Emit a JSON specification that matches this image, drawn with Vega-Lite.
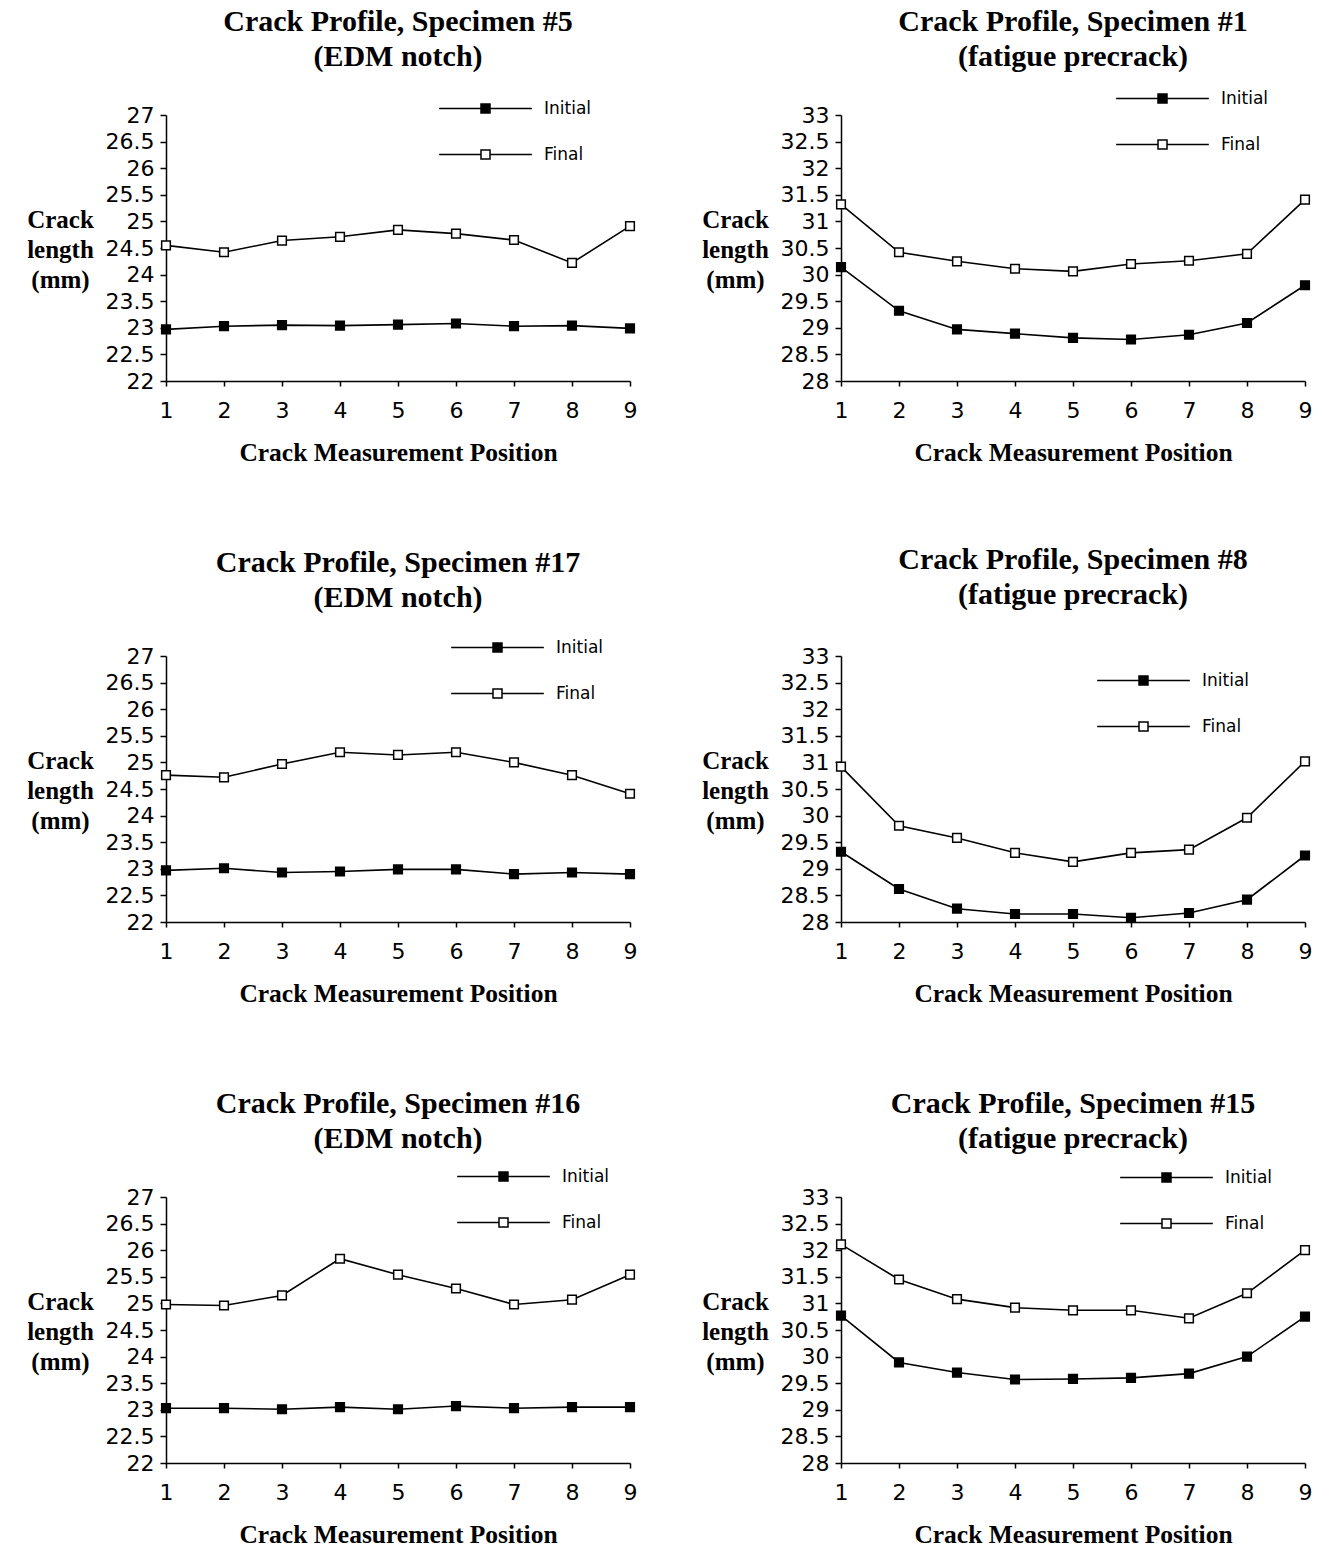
{
  "$schema": "https://vega.github.io/schema/vega-lite/v6.json",
  "background": "white",
  "padding": {"left": 26, "top": 6, "right": 5, "bottom": 2},
  "data": {"values": [
    {"specimen": "5", "pos": 1, "stage": "Initial", "len": 22.97},
    {"specimen": "5", "pos": 2, "stage": "Initial", "len": 23.03},
    {"specimen": "5", "pos": 3, "stage": "Initial", "len": 23.05},
    {"specimen": "5", "pos": 4, "stage": "Initial", "len": 23.04},
    {"specimen": "5", "pos": 5, "stage": "Initial", "len": 23.06},
    {"specimen": "5", "pos": 6, "stage": "Initial", "len": 23.08},
    {"specimen": "5", "pos": 7, "stage": "Initial", "len": 23.03},
    {"specimen": "5", "pos": 8, "stage": "Initial", "len": 23.04},
    {"specimen": "5", "pos": 9, "stage": "Initial", "len": 22.99},
    {"specimen": "5", "pos": 1, "stage": "Final", "len": 24.55},
    {"specimen": "5", "pos": 2, "stage": "Final", "len": 24.42},
    {"specimen": "5", "pos": 3, "stage": "Final", "len": 24.64},
    {"specimen": "5", "pos": 4, "stage": "Final", "len": 24.71},
    {"specimen": "5", "pos": 5, "stage": "Final", "len": 24.84},
    {"specimen": "5", "pos": 6, "stage": "Final", "len": 24.77},
    {"specimen": "5", "pos": 7, "stage": "Final", "len": 24.65},
    {"specimen": "5", "pos": 8, "stage": "Final", "len": 24.22},
    {"specimen": "5", "pos": 9, "stage": "Final", "len": 24.91},

    {"specimen": "1", "pos": 1, "stage": "Initial", "len": 30.14},
    {"specimen": "1", "pos": 2, "stage": "Initial", "len": 29.32},
    {"specimen": "1", "pos": 3, "stage": "Initial", "len": 28.97},
    {"specimen": "1", "pos": 4, "stage": "Initial", "len": 28.89},
    {"specimen": "1", "pos": 5, "stage": "Initial", "len": 28.81},
    {"specimen": "1", "pos": 6, "stage": "Initial", "len": 28.78},
    {"specimen": "1", "pos": 7, "stage": "Initial", "len": 28.87},
    {"specimen": "1", "pos": 8, "stage": "Initial", "len": 29.09},
    {"specimen": "1", "pos": 9, "stage": "Initial", "len": 29.80},
    {"specimen": "1", "pos": 1, "stage": "Final", "len": 31.32},
    {"specimen": "1", "pos": 2, "stage": "Final", "len": 30.42},
    {"specimen": "1", "pos": 3, "stage": "Final", "len": 30.25},
    {"specimen": "1", "pos": 4, "stage": "Final", "len": 30.11},
    {"specimen": "1", "pos": 5, "stage": "Final", "len": 30.06},
    {"specimen": "1", "pos": 6, "stage": "Final", "len": 30.20},
    {"specimen": "1", "pos": 7, "stage": "Final", "len": 30.26},
    {"specimen": "1", "pos": 8, "stage": "Final", "len": 30.39},
    {"specimen": "1", "pos": 9, "stage": "Final", "len": 31.41},

    {"specimen": "17", "pos": 1, "stage": "Initial", "len": 22.97},
    {"specimen": "17", "pos": 2, "stage": "Initial", "len": 23.01},
    {"specimen": "17", "pos": 3, "stage": "Initial", "len": 22.93},
    {"specimen": "17", "pos": 4, "stage": "Initial", "len": 22.95},
    {"specimen": "17", "pos": 5, "stage": "Initial", "len": 22.99},
    {"specimen": "17", "pos": 6, "stage": "Initial", "len": 22.99},
    {"specimen": "17", "pos": 7, "stage": "Initial", "len": 22.90},
    {"specimen": "17", "pos": 8, "stage": "Initial", "len": 22.93},
    {"specimen": "17", "pos": 9, "stage": "Initial", "len": 22.90},
    {"specimen": "17", "pos": 1, "stage": "Final", "len": 24.76},
    {"specimen": "17", "pos": 2, "stage": "Final", "len": 24.72},
    {"specimen": "17", "pos": 3, "stage": "Final", "len": 24.97},
    {"specimen": "17", "pos": 4, "stage": "Final", "len": 25.19},
    {"specimen": "17", "pos": 5, "stage": "Final", "len": 25.14},
    {"specimen": "17", "pos": 6, "stage": "Final", "len": 25.19},
    {"specimen": "17", "pos": 7, "stage": "Final", "len": 25.00},
    {"specimen": "17", "pos": 8, "stage": "Final", "len": 24.76},
    {"specimen": "17", "pos": 9, "stage": "Final", "len": 24.41},

    {"specimen": "8", "pos": 1, "stage": "Initial", "len": 29.32},
    {"specimen": "8", "pos": 2, "stage": "Initial", "len": 28.62},
    {"specimen": "8", "pos": 3, "stage": "Initial", "len": 28.25},
    {"specimen": "8", "pos": 4, "stage": "Initial", "len": 28.15},
    {"specimen": "8", "pos": 5, "stage": "Initial", "len": 28.15},
    {"specimen": "8", "pos": 6, "stage": "Initial", "len": 28.08},
    {"specimen": "8", "pos": 7, "stage": "Initial", "len": 28.17},
    {"specimen": "8", "pos": 8, "stage": "Initial", "len": 28.42},
    {"specimen": "8", "pos": 9, "stage": "Initial", "len": 29.25},
    {"specimen": "8", "pos": 1, "stage": "Final", "len": 30.92},
    {"specimen": "8", "pos": 2, "stage": "Final", "len": 29.81},
    {"specimen": "8", "pos": 3, "stage": "Final", "len": 29.58},
    {"specimen": "8", "pos": 4, "stage": "Final", "len": 29.30},
    {"specimen": "8", "pos": 5, "stage": "Final", "len": 29.13},
    {"specimen": "8", "pos": 6, "stage": "Final", "len": 29.30},
    {"specimen": "8", "pos": 7, "stage": "Final", "len": 29.36},
    {"specimen": "8", "pos": 8, "stage": "Final", "len": 29.96},
    {"specimen": "8", "pos": 9, "stage": "Final", "len": 31.02},

    {"specimen": "16", "pos": 1, "stage": "Initial", "len": 23.03},
    {"specimen": "16", "pos": 2, "stage": "Initial", "len": 23.03},
    {"specimen": "16", "pos": 3, "stage": "Initial", "len": 23.01},
    {"specimen": "16", "pos": 4, "stage": "Initial", "len": 23.05},
    {"specimen": "16", "pos": 5, "stage": "Initial", "len": 23.01},
    {"specimen": "16", "pos": 6, "stage": "Initial", "len": 23.07},
    {"specimen": "16", "pos": 7, "stage": "Initial", "len": 23.03},
    {"specimen": "16", "pos": 8, "stage": "Initial", "len": 23.05},
    {"specimen": "16", "pos": 9, "stage": "Initial", "len": 23.05},
    {"specimen": "16", "pos": 1, "stage": "Final", "len": 24.98},
    {"specimen": "16", "pos": 2, "stage": "Final", "len": 24.96},
    {"specimen": "16", "pos": 3, "stage": "Final", "len": 25.15},
    {"specimen": "16", "pos": 4, "stage": "Final", "len": 25.84},
    {"specimen": "16", "pos": 5, "stage": "Final", "len": 25.54},
    {"specimen": "16", "pos": 6, "stage": "Final", "len": 25.28},
    {"specimen": "16", "pos": 7, "stage": "Final", "len": 24.98},
    {"specimen": "16", "pos": 8, "stage": "Final", "len": 25.07},
    {"specimen": "16", "pos": 9, "stage": "Final", "len": 25.54},

    {"specimen": "15", "pos": 1, "stage": "Initial", "len": 30.77},
    {"specimen": "15", "pos": 2, "stage": "Initial", "len": 29.89},
    {"specimen": "15", "pos": 3, "stage": "Initial", "len": 29.70},
    {"specimen": "15", "pos": 4, "stage": "Initial", "len": 29.57},
    {"specimen": "15", "pos": 5, "stage": "Initial", "len": 29.58},
    {"specimen": "15", "pos": 6, "stage": "Initial", "len": 29.60},
    {"specimen": "15", "pos": 7, "stage": "Initial", "len": 29.68},
    {"specimen": "15", "pos": 8, "stage": "Initial", "len": 30.00},
    {"specimen": "15", "pos": 9, "stage": "Initial", "len": 30.75},
    {"specimen": "15", "pos": 1, "stage": "Final", "len": 32.11},
    {"specimen": "15", "pos": 2, "stage": "Final", "len": 31.45},
    {"specimen": "15", "pos": 3, "stage": "Final", "len": 31.08},
    {"specimen": "15", "pos": 4, "stage": "Final", "len": 30.92},
    {"specimen": "15", "pos": 5, "stage": "Final", "len": 30.87},
    {"specimen": "15", "pos": 6, "stage": "Final", "len": 30.87},
    {"specimen": "15", "pos": 7, "stage": "Final", "len": 30.72},
    {"specimen": "15", "pos": 8, "stage": "Final", "len": 31.19},
    {"specimen": "15", "pos": 9, "stage": "Final", "len": 32.00}
  ]},
  "columns": 2,
  "bounds": "flush",
  "spacing": {"row": 275, "column": 211},
  "resolve": {
    "scale": {"x": "independent", "y": "independent", "fill": "independent"},
    "axis": {"x": "independent", "y": "independent"},
    "legend": {"fill": "independent"}
  },
  "concat": [
    {
      "title": {"text": ["Crack Profile, Specimen #5", "(EDM notch)"], "offset": 28.5},
      "width": 464, "height": 266,
      "transform": [{"filter": "datum.specimen == '5'"}],
      "encoding": {
        "x": {"field": "pos", "type": "quantitative", "scale": {"domain": [1, 9], "nice": false, "zero": false}, "axis": {"values": [1,2,3,4,5,6,7,8,9], "format": "d", "title": "Crack Measurement Position"}},
        "y": {"field": "len", "type": "quantitative", "scale": {"domain": [22, 27], "nice": false, "zero": false}, "axis": {"tickCount": 10, "format": "~g", "title": ["Crack", "length", "(mm)"]}}
      },
      "layer": [
        {"mark": {"type": "line", "color": "black", "strokeWidth": 1.6}, "encoding": {"detail": {"field": "stage"}}},
        {"mark": {"type": "point", "shape": "square", "size": 75, "filled": true, "stroke": "black", "strokeWidth": 1.5, "opacity": 1},
         "encoding": {"fill": {"field": "stage", "type": "nominal", "scale": {"domain": ["Initial", "Final"], "range": ["black", "white"]},
           "legend": {"orient": "none", "legendX": 311, "legendY": -15}}}}
      ]
    },
    {
      "title": {"text": ["Crack Profile, Specimen #1", "(fatigue precrack)"], "offset": 18.5},
      "width": 464, "height": 266,
      "transform": [{"filter": "datum.specimen == '1'"}],
      "encoding": {
        "x": {"field": "pos", "type": "quantitative", "scale": {"domain": [1, 9], "nice": false, "zero": false}, "axis": {"values": [1,2,3,4,5,6,7,8,9], "format": "d", "title": "Crack Measurement Position"}},
        "y": {"field": "len", "type": "quantitative", "scale": {"domain": [28, 33], "nice": false, "zero": false}, "axis": {"tickCount": 10, "format": "~g", "title": ["Crack", "length", "(mm)"]}}
      },
      "layer": [
        {"mark": {"type": "line", "color": "black", "strokeWidth": 1.6}, "encoding": {"detail": {"field": "stage"}}},
        {"mark": {"type": "point", "shape": "square", "size": 75, "filled": true, "stroke": "black", "strokeWidth": 1.5, "opacity": 1},
         "encoding": {"fill": {"field": "stage", "type": "nominal", "scale": {"domain": ["Initial", "Final"], "range": ["black", "white"]},
           "legend": {"orient": "none", "legendX": 313, "legendY": -25}}}}
      ]
    },
    {
      "title": {"text": ["Crack Profile, Specimen #17", "(EDM notch)"], "offset": 26.5},
      "width": 464, "height": 266,
      "transform": [{"filter": "datum.specimen == '17'"}],
      "encoding": {
        "x": {"field": "pos", "type": "quantitative", "scale": {"domain": [1, 9], "nice": false, "zero": false}, "axis": {"values": [1,2,3,4,5,6,7,8,9], "format": "d", "title": "Crack Measurement Position"}},
        "y": {"field": "len", "type": "quantitative", "scale": {"domain": [22, 27], "nice": false, "zero": false}, "axis": {"tickCount": 10, "format": "~g", "title": ["Crack", "length", "(mm)"]}}
      },
      "layer": [
        {"mark": {"type": "line", "color": "black", "strokeWidth": 1.6}, "encoding": {"detail": {"field": "stage"}}},
        {"mark": {"type": "point", "shape": "square", "size": 75, "filled": true, "stroke": "black", "strokeWidth": 1.5, "opacity": 1},
         "encoding": {"fill": {"field": "stage", "type": "nominal", "scale": {"domain": ["Initial", "Final"], "range": ["black", "white"]},
           "legend": {"orient": "none", "legendX": 323, "legendY": -17}}}}
      ]
    },
    {
      "title": {"text": ["Crack Profile, Specimen #8", "(fatigue precrack)"], "offset": 35.5},
      "width": 464, "height": 266,
      "transform": [{"filter": "datum.specimen == '8'"}],
      "encoding": {
        "x": {"field": "pos", "type": "quantitative", "scale": {"domain": [1, 9], "nice": false, "zero": false}, "axis": {"values": [1,2,3,4,5,6,7,8,9], "format": "d", "title": "Crack Measurement Position"}},
        "y": {"field": "len", "type": "quantitative", "scale": {"domain": [28, 33], "nice": false, "zero": false}, "axis": {"tickCount": 10, "format": "~g", "title": ["Crack", "length", "(mm)"]}}
      },
      "layer": [
        {"mark": {"type": "line", "color": "black", "strokeWidth": 1.6}, "encoding": {"detail": {"field": "stage"}}},
        {"mark": {"type": "point", "shape": "square", "size": 75, "filled": true, "stroke": "black", "strokeWidth": 1.5, "opacity": 1},
         "encoding": {"fill": {"field": "stage", "type": "nominal", "scale": {"domain": ["Initial", "Final"], "range": ["black", "white"]},
           "legend": {"orient": "none", "legendX": 294, "legendY": 16}}}}
      ]
    },
    {
      "title": {"text": ["Crack Profile, Specimen #16", "(EDM notch)"], "offset": 14.5},
      "width": 464, "height": 266,
      "transform": [{"filter": "datum.specimen == '16'"}],
      "encoding": {
        "x": {"field": "pos", "type": "quantitative", "scale": {"domain": [1, 9], "nice": false, "zero": false}, "axis": {"values": [1,2,3,4,5,6,7,8,9], "format": "d", "title": "Crack Measurement Position"}},
        "y": {"field": "len", "type": "quantitative", "scale": {"domain": [22, 27], "nice": false, "zero": false}, "axis": {"tickCount": 10, "format": "~g", "title": ["Crack", "length", "(mm)"]}}
      },
      "layer": [
        {"mark": {"type": "line", "color": "black", "strokeWidth": 1.6}, "encoding": {"detail": {"field": "stage"}}},
        {"mark": {"type": "point", "shape": "square", "size": 75, "filled": true, "stroke": "black", "strokeWidth": 1.5, "opacity": 1},
         "encoding": {"fill": {"field": "stage", "type": "nominal", "scale": {"domain": ["Initial", "Final"], "range": ["black", "white"]},
           "legend": {"orient": "none", "legendX": 329, "legendY": -29}}}}
      ]
    },
    {
      "title": {"text": ["Crack Profile, Specimen #15", "(fatigue precrack)"], "offset": 15.5},
      "width": 464, "height": 266,
      "transform": [{"filter": "datum.specimen == '15'"}],
      "encoding": {
        "x": {"field": "pos", "type": "quantitative", "scale": {"domain": [1, 9], "nice": false, "zero": false}, "axis": {"values": [1,2,3,4,5,6,7,8,9], "format": "d", "title": "Crack Measurement Position"}},
        "y": {"field": "len", "type": "quantitative", "scale": {"domain": [28, 33], "nice": false, "zero": false}, "axis": {"tickCount": 10, "format": "~g", "title": ["Crack", "length", "(mm)"]}}
      },
      "layer": [
        {"mark": {"type": "line", "color": "black", "strokeWidth": 1.6}, "encoding": {"detail": {"field": "stage"}}},
        {"mark": {"type": "point", "shape": "square", "size": 75, "filled": true, "stroke": "black", "strokeWidth": 1.5, "opacity": 1},
         "encoding": {"fill": {"field": "stage", "type": "nominal", "scale": {"domain": ["Initial", "Final"], "range": ["black", "white"]},
           "legend": {"orient": "none", "legendX": 317, "legendY": -28}}}}
      ]
    }
  ],
  "config": {
    "view": {"stroke": null},
    "title": {"font": "Liberation Serif", "fontSize": 30, "fontWeight": "bold", "color": "black", "lineHeight": 35, "anchor": "middle"},
    "axis": {
      "grid": false, "domainColor": "black", "domainWidth": 1.5, "tickColor": "black", "tickWidth": 1.5,
      "labelColor": "black", "labelFont": "DejaVu Sans", "labelFontSize": 22, "labelFlush": false, "labelOverlap": false, "labelBound": false,
      "titleColor": "black", "titleFont": "Liberation Serif", "titleFontSize": 25.5, "titleFontWeight": "bold"
    },
    "axisX": {"tickSize": 5, "labelPadding": 14, "titlePadding": 19},
    "axisY": {"tickSize": 6, "labelPadding": 6, "titleAngle": 0, "titleAlign": "center", "titleBaseline": "middle", "titleX": -106, "titleY": 104, "titleLineHeight": 30, "titleFontSize": 25},
    "legend": {
      "title": null, "padding": 0,
      "symbolType": "M -10.3 0 L -1 0 M 1 0 L 10.3 0 M -1 -1 L 1 -1 L 1 1 L -1 1 Z",
      "symbolSize": 81, "symbolStrokeColor": "black", "symbolStrokeWidth": 1.5, "symbolOpacity": 1,
      "labelFont": "DejaVu Sans", "labelFontSize": 17, "labelColor": "black", "labelOffset": 50, "rowPadding": 28
    }
  }
}
